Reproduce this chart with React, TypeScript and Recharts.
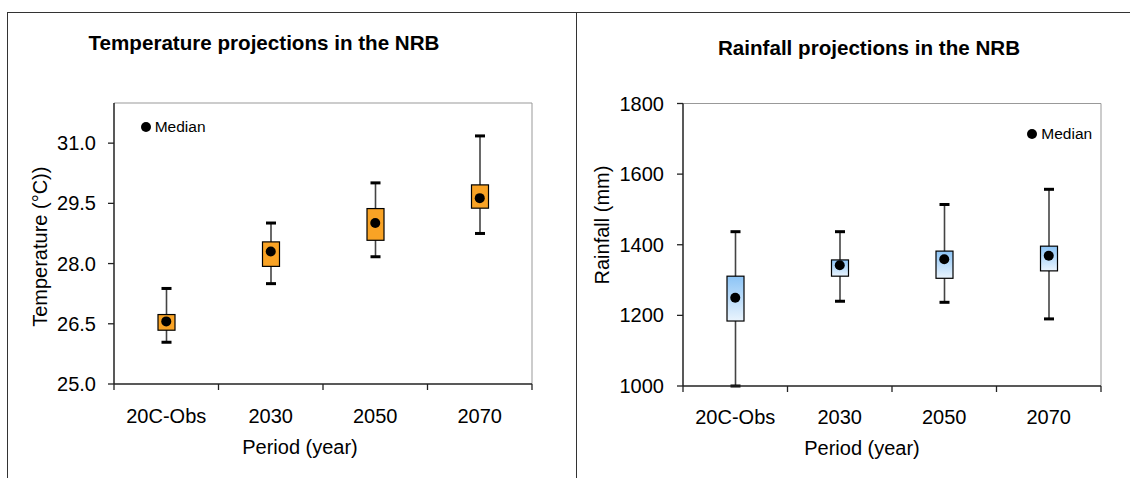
import React from 'react';
import { ComposedChart, Bar, Scatter, XAxis, YAxis, ReferenceLine, Legend } from 'recharts';

const categories = ['20C-Obs', '2030', '2050', '2070'];

const tempMin = [26.04, 27.5, 28.17, 28.75];
const tempQ1 = [26.34, 27.93, 28.58, 29.38];
const tempMedian = [26.56, 28.3, 29.01, 29.63];
const tempQ3 = [26.73, 28.54, 29.37, 29.96];
const tempMax = [27.38, 29.01, 30.01, 31.18];
const tempTicks = [25, 26.5, 28, 29.5, 31];

const rainMin = [1000, 1240, 1237, 1190];
const rainQ1 = [1184, 1311, 1305, 1326];
const rainMedian = [1250, 1342, 1359, 1369];
const rainQ3 = [1311, 1357, 1382, 1396];
const rainMax = [1437, 1437, 1514, 1557];
const rainTicks = [1000, 1200, 1400, 1600, 1800];

const xTicks = [0, 0.5, 1, 1.5, 2, 2.5, 3, 3.5, 4];

const buildRows = (mn, q1, med, q3, mx) =>
  categories.map((label, i) => ({
    pos: i + 0.5,
    label,
    min: mn[i],
    q1: q1[i],
    median: med[i],
    q3: q3[i],
    max: mx[i],
  }));

const tempData = buildRows(tempMin, tempQ1, tempMedian, tempQ3, tempMax);
const rainData = buildRows(rainMin, rainQ1, rainMedian, rainQ3, rainMax);

const FONT = '"Liberation Sans", Arial, sans-serif';

// box + whiskers drawn from the range bar [min, max]
const makeBox = (fill: string) => (props: any) => {
  const { x, y, width, height, payload } = props;
  if (x == null || y == null) return null;
  const top = Math.min(y, y + height);
  const bottom = Math.max(y, y + height);
  const k = (bottom - top) / (payload.max - payload.min);
  const yOf = (v: number) => bottom - (v - payload.min) * k;
  const cx = x + width / 2;
  return (
    <g>
      <line x1={cx} x2={cx} y1={top} y2={bottom} stroke="#444" strokeWidth={1.6} />
      <rect x={cx - 5} y={top - 1.5} width={10} height={3} fill="#000" />
      <rect x={cx - 5} y={bottom - 1.5} width={10} height={3} fill="#000" />
      <rect x={x} y={yOf(payload.q3)} width={width} height={yOf(payload.q1) - yOf(payload.q3)} fill={fill} stroke="#000" strokeWidth={1.2} />
    </g>
  );
};

const makeXTick = (tickSize: number, tickMargin: number) => (props: any) => {
  const { x, y, payload } = props;
  const v = payload.value;
  if (Number.isInteger(v)) {
    const y0 = y - tickMargin - tickSize;
    return <line x1={x} x2={x} y1={y0} y2={y0 + tickSize} stroke="#222" strokeWidth={1.3} />;
  }
  const idx = Math.floor(v);
  return (
    <text x={x} y={y} dy="0.71em" textAnchor="middle" fontSize={20} fill="#000">
      {categories[idx]}
    </text>
  );
};

const MedianLegend = () => (
  <div style={{ display: 'flex', alignItems: 'center', fontSize: 15.5, lineHeight: '18px', color: '#000', whiteSpace: 'nowrap' }}>
    <svg width={10} height={10} style={{ marginRight: 4 }}>
      <circle cx={5} cy={5} r={5} fill="#000" />
    </svg>
    <span>Median</span>
  </div>
);

const Dot = (props: any) => {
  const { cx, cy } = props;
  if (cx == null || cy == null) return null;
  return <circle cx={cx} cy={cy} r={5} fill="#000" />;
};

const axisLabel = (text: string, dx: number, dy: number) => (props: any) => {
  const vb = props.viewBox;
  const cx = vb.x + vb.width / 2 + dx;
  return (
    <text x={cx} y={vb.y + dy} textAnchor="middle" fontSize={20} fill="#000">
      {text}
    </text>
  );
};

const yLabel = (text: string, x: number, cy: number) => () => (
  <text x={x} y={cy} textAnchor="middle" dominantBaseline="central" fontSize={20} fill="#000" transform={`rotate(-90 ${x} ${cy})`}>
    {text}
  </text>
);

const App = () => {
  return (
    <div style={{ position: 'absolute', left: 0, top: 0, width: 1130, height: 478, background: '#fff', fontFamily: FONT, overflow: 'hidden' }}>
      {/* panel frames */}
      <div style={{ position: 'absolute', left: 7, top: 12, width: 568, height: 520, borderLeft: '1px solid #333', borderTop: '1px solid #333', borderRight: '1px solid #333' }} />
      <div style={{ position: 'absolute', left: 576, top: 12, width: 600, height: 520, borderTop: '1px solid #333' }} />

      {/* titles */}
      <div style={{ position: 'absolute', left: 64, width: 400, top: 32.5, textAlign: 'center', fontWeight: 'bold', fontSize: 20.6, lineHeight: '20px' }}>
        Temperature projections in the NRB
      </div>
      <div style={{ position: 'absolute', left: 669, width: 400, top: 38, textAlign: 'center', fontWeight: 'bold', fontSize: 20.6, lineHeight: '20px' }}>
        Rainfall projections in the NRB
      </div>

      {/* temperature */}
      <div style={{ position: 'absolute', left: 0, top: 0 }}>
        <ComposedChart width={575} height={478} data={tempData} margin={{ top: 103, right: 43, bottom: 14, left: 4 }}>
          <XAxis
            dataKey="pos"
            type="number"
            domain={[0, 4]}
            ticks={xTicks}
            interval={0}
            height={80}
            tickSize={6}
            tickMargin={19}
            tickLine={false}
            tick={makeXTick(6, 19)}
            axisLine={{ stroke: '#222', strokeWidth: 1.5 }}
            label={{ content: axisLabel('Period (year)', -23, 70) }}
          />
          <YAxis
            type="number"
            domain={[25, 32]}
            ticks={tempTicks}
            interval={0}
            width={110}
            tickSize={6}
            tickMargin={12}
            tickFormatter={(v: number) => v.toFixed(1)}
            tick={{ fontSize: 20, fill: '#000' }}
            tickLine={{ stroke: '#222', strokeWidth: 1.3 }}
            axisLine={{ stroke: '#222', strokeWidth: 1.5 }}
            label={{ content: yLabel('Temperature (°C))', 40, 246.7) }}
          />
          <ReferenceLine y={32} stroke="#999" strokeWidth={1} />
          <ReferenceLine x={4} stroke="#999" strokeWidth={1} />
          <Bar dataKey={(d: any) => [d.min, d.max]} barSize={17} shape={makeBox('#f9a325')} legendType="none" isAnimationActive={false} />
          <Scatter name="Median" dataKey="median" fill="#000" shape={Dot} isAnimationActive={false} />
          <Legend layout="vertical" align="center" verticalAlign="middle" content={MedianLegend} wrapperStyle={{ left: 140.7, top: 118, width: 'auto' }} />
        </ComposedChart>
      </div>

      {/* rainfall */}
      <div style={{ position: 'absolute', left: 575, top: 0 }}>
        <ComposedChart width={555} height={478} data={rainData} margin={{ top: 103.5, right: 29, bottom: 12, left: 4 }}>
          <defs>
            <linearGradient id="rainBox" x1="0" y1="0" x2="0" y2="1">
              <stop offset="0%" stopColor="#8cc4f6" />
              <stop offset="100%" stopColor="#eaf4fd" />
            </linearGradient>
          </defs>
          <XAxis
            dataKey="pos"
            type="number"
            domain={[0, 4]}
            ticks={xTicks}
            interval={0}
            height={80}
            tickSize={6}
            tickMargin={18}
            tickLine={false}
            tick={makeXTick(6, 18)}
            axisLine={{ stroke: '#222', strokeWidth: 1.5 }}
            label={{ content: axisLabel('Period (year)', -30, 69) }}
          />
          <YAxis
            type="number"
            domain={[1000, 1800]}
            ticks={rainTicks}
            interval={0}
            width={104}
            tickSize={6}
            tickMargin={13}
            tick={{ fontSize: 20, fill: '#000' }}
            tickLine={{ stroke: '#222', strokeWidth: 1.3 }}
            axisLine={{ stroke: '#222', strokeWidth: 1.5 }}
            label={{ content: yLabel('Rainfall (mm)', 27, 225) }}
          />
          <ReferenceLine y={1800} stroke="#999" strokeWidth={1} />
          <ReferenceLine x={4} stroke="#999" strokeWidth={1} />
          <Bar dataKey={(d: any) => [d.min, d.max]} barSize={17} shape={makeBox('url(#rainBox)')} legendType="none" isAnimationActive={false} />
          <Scatter name="Median" dataKey="median" fill="#000" shape={Dot} isAnimationActive={false} />
          <Legend layout="vertical" align="center" verticalAlign="middle" content={MedianLegend} wrapperStyle={{ left: 452.3, top: 125, width: 'auto' }} />
        </ComposedChart>
      </div>
    </div>
  );
};

export default App;
